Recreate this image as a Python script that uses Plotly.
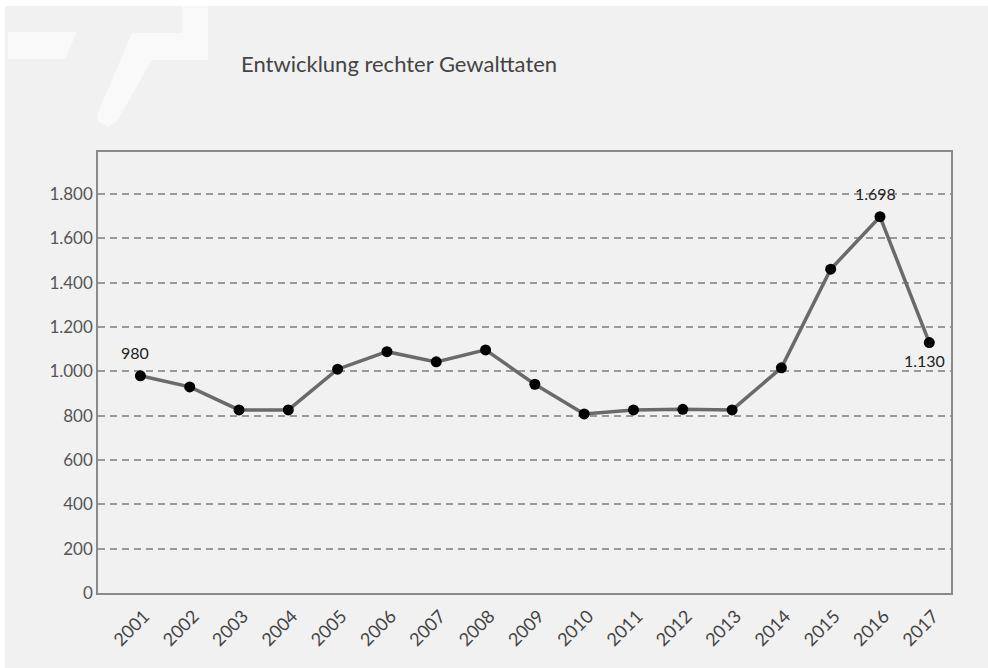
import plotly.graph_objects as go

years = list(range(2001, 2018))
values = [980, 930, 826, 826, 1010, 1089, 1043, 1097, 942, 808, 826, 829, 826, 1016, 1461, 1698, 1130]
y_tick_vals = [0, 200, 400, 600, 800, 1000, 1200, 1400, 1600, 1800]
y_tick_text = ["0", "200", "400", "600", "800", "1.000", "1.200", "1.400", "1.600", "1.800"]
title_text = "Entwicklung rechter Gewalttaten"
labelled = {2001: "980", 2016: "1.698", 2017: "1.130"}

FONT = "Lato, 'Liberation Sans', sans-serif"
BG = "#f1f1f1"
W, H = 988, 668
ML, MR, MT, MB = 98, 37, 152, 75
PW, PH = W - ML - MR, H - MT - MB


def px(x, y):
    return f"{(x - ML) / PW:.4f},{(H - MB - y) / PH:.4f}"


fig = go.Figure()
fig.add_trace(go.Scatter(
    x=years, y=values, mode="lines+markers",
    line=dict(color="#6a6a6a", width=3.5),
    marker=dict(color="#000000", size=11),
    hoverinfo="skip", showlegend=False,
))

ann = []
for yr, txt in labelled.items():
    v = values[years.index(yr)]
    below = yr == 2017
    ann.append(dict(x=yr, y=v, xref="x", yref="y", text=txt, showarrow=False,
                    font=dict(family=FONT, size=16, color="#222"),
                    xshift=-5, yshift=-18 if below else 23))

WM = "rgba(255,255,255,0.6)"
shapes = [
    dict(type="path", xref="paper", yref="paper", layer="below",
         path=f"M {px(0, 0)} L {px(W, 0)} L {px(W, 6)} L {px(0, 6)} Z",
         fillcolor="#ffffff", line=dict(width=0)),
    dict(type="path", xref="paper", yref="paper", layer="below",
         path=f"M {px(0, 0)} L {px(5, 0)} L {px(5, H)} L {px(0, H)} Z",
         fillcolor="#ffffff", line=dict(width=0)),
    dict(type="path", xref="paper", yref="paper", layer="below",
         path=f"M {px(8, 32)} L {px(77, 32)} L {px(65, 59)} L {px(8, 59)} Z",
         fillcolor=WM, line=dict(width=0)),
    dict(type="path", xref="paper", yref="paper", layer="below",
         path=(f"M {px(182, 6)} L {px(208, 6)} L {px(208, 60)} L {px(152, 60)} "
               f"L {px(117, 121)} L {px(108, 127)} L {px(99, 122)} L {px(97, 115)} "
               f"L {px(132, 33)} L {px(182, 33)} Z"),
         fillcolor=WM, line=dict(width=0)),
]

fig.update_layout(
    width=W, height=H,
    margin=dict(l=ML, r=MR, t=MT, b=MB),
    paper_bgcolor=BG, plot_bgcolor=BG,
    font=dict(family=FONT, color="#555"),
    title=dict(text=title_text, xref="container", yref="container",
               x=241 / W, y=1 - 64 / H, xanchor="left", yanchor="middle",
               font=dict(family=FONT, size=22, color="#444")),
    annotations=ann, shapes=shapes,
    xaxis=dict(range=[2000.14, 2017.44], tickvals=years, ticktext=[str(y) for y in years],
               tickangle=-45, tickfont=dict(size=18, color="#444"),
               ticklabelshift=4, ticklabelstandoff=4,
               showgrid=False, zeroline=False,
               showline=True, linecolor="#8a8a8a", linewidth=1.5, mirror=True,
               ticks="", fixedrange=True),
    yaxis=dict(range=[0, 1990], tickvals=y_tick_vals, ticktext=y_tick_text,
               tickfont=dict(size=17, color="#555"),
               showgrid=True, gridcolor="#9a9a9a", gridwidth=1.5, griddash="7px,5px",
               zeroline=False, showline=True, linecolor="#8a8a8a", linewidth=1.5, mirror=True,
               ticks="", fixedrange=True),
)

fig.write_html("out.html")
